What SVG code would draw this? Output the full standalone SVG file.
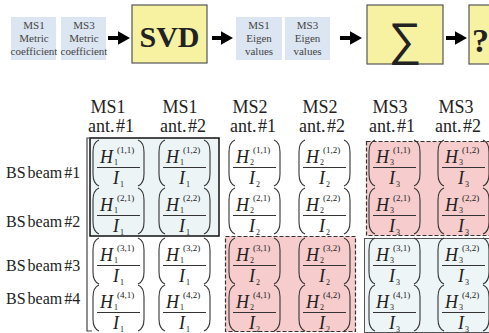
<svg xmlns="http://www.w3.org/2000/svg" xmlns:xlink="http://www.w3.org/1999/xlink" width="489" height="333" viewBox="0 0 489 333">
<style>
.bg{fill:#ffffff}
.tb{fill:#dce6f2}
.tt{font-family:"Liberation Serif","Times New Roman","DejaVu Serif",serif;font-size:11px;fill:#444;text-anchor:middle}
.yb{fill:#f7f2a2;stroke:#555;stroke-width:1.2}
.hd{font-family:"Liberation Serif","Times New Roman","DejaVu Serif",serif;font-size:18px;fill:#222;text-anchor:middle}
.rl{font-family:"Liberation Serif","Times New Roman","DejaVu Serif",serif;font-size:16px;fill:#222}
.h{font-family:"Liberation Serif","Times New Roman","DejaVu Serif",serif;font-style:italic;font-size:18px;fill:#222}
.sp{font-family:"Liberation Serif","Times New Roman","DejaVu Serif",serif;font-size:9px;fill:#222}
.sb{font-family:"Liberation Serif","Times New Roman","DejaVu Serif",serif;font-size:8px;fill:#222}
.pr{fill:none;stroke:#333;stroke-width:1.1}
.fl{stroke:#333;stroke-width:1.1}
.arr{stroke:#000;stroke-width:4}
</style>
<defs>
<g id="par">
<path class="pr" d="M7,0 C2,2 1,6 1,12 L1,34 C1,40 2,44 7,46"/>
<path class="pr" d="M46,0 C51,2 52,6 52,12 L52,34 C52,40 51,44 46,46"/>
<line class="fl" x1="5" y1="27.5" x2="48" y2="27.5"/>
</g>
<marker id="ah" markerWidth="3" markerHeight="3.4" refX="1" refY="1.7" orient="auto" markerUnits="strokeWidth">
<path d="M0,0 L3,1.7 L0,3.4 Z" fill="#000"/>
</marker>
</defs>
<rect class="bg" x="0" y="0" width="489" height="333"/>

<g id="connectors">
<line class="arr" x1="108" y1="38" x2="122" y2="38" marker-end="url(#ah)"/>
<line class="arr" x1="212" y1="38" x2="225" y2="38" marker-end="url(#ah)"/>
<line class="arr" x1="340" y1="38" x2="354" y2="38" marker-end="url(#ah)"/>
<line class="arr" x1="446" y1="38" x2="459" y2="38" marker-end="url(#ah)"/>
</g>

<g id="ms1-metric">
<rect class="tb" x="11" y="17" width="45" height="43"/>
<text class="tt" x="34" y="29">MS1</text>
<text class="tt" x="34" y="42">Metric</text>
<text class="tt" x="34" y="55">coefficient</text>
</g>
<g id="ms3-metric">
<rect class="tb" x="61" y="17" width="45" height="43"/>
<text class="tt" x="84" y="29">MS3</text>
<text class="tt" x="84" y="42">Metric</text>
<text class="tt" x="84" y="55">coefficient</text>
</g>
<g id="svd">
<rect class="yb" x="132" y="5" width="75" height="58"/>
<text x="169.5" y="47" font-family="Liberation Serif,Times New Roman,DejaVu Serif,serif" font-weight="bold" font-size="30" fill="#222" text-anchor="middle">SVD</text>
</g>
<g id="ms1-eigen">
<rect class="tb" x="236" y="17" width="46" height="43"/>
<text class="tt" x="259" y="29">MS1</text>
<text class="tt" x="259" y="42">Eigen</text>
<text class="tt" x="259" y="55">values</text>
</g>
<g id="ms3-eigen">
<rect class="tb" x="285" y="17" width="45" height="43"/>
<text class="tt" x="307.5" y="29">MS3</text>
<text class="tt" x="307.5" y="42">Eigen</text>
<text class="tt" x="307.5" y="55">values</text>
</g>
<g id="sum">
<rect class="yb" x="367" y="5" width="76" height="59"/>
<text x="405" y="55" font-family="DejaVu Sans,sans-serif" font-weight="200" font-size="46" fill="#222" text-anchor="middle">∑</text>
</g>
<g id="question">
<rect class="yb" x="469" y="5" width="25" height="59"/>
<text x="472" y="52" font-family="Liberation Serif,Times New Roman,DejaVu Serif,serif" font-weight="bold" font-size="34" fill="#222">?</text>
</g>

<g id="headers">
<text class="hd" x="108" y="113">MS1</text>
<text class="hd" x="111" y="132" word-spacing="-3">ant. #1</text>
<text class="hd" x="180" y="113">MS1</text>
<text class="hd" x="183" y="132" word-spacing="-3">ant. #2</text>
<text class="hd" x="250" y="113">MS2</text>
<text class="hd" x="253" y="132" word-spacing="-3">ant. #1</text>
<text class="hd" x="320" y="113">MS2</text>
<text class="hd" x="322" y="132" word-spacing="-3">ant. #2</text>
<text class="hd" x="390" y="113">MS3</text>
<text class="hd" x="392" y="132" word-spacing="-3">ant. #1</text>
<text class="hd" x="456" y="113">MS3</text>
<text class="hd" x="458" y="132" word-spacing="-3">ant. #2</text>
</g>
<g id="row-labels">
<text class="rl" x="6" y="178" word-spacing="-2">BS beam #1</text>
<text class="rl" x="6" y="227" word-spacing="-2">BS beam #2</text>
<text class="rl" x="6" y="271" word-spacing="-2">BS beam #3</text>
<text class="rl" x="6" y="304" word-spacing="-2">BS beam #4</text>
</g>

<g id="blocks">
<rect x="90" y="138" width="129" height="98" fill="#ecf4f6" stroke="#111" stroke-width="1.5"/>
<rect x="225.5" y="236.5" width="130" height="95" fill="#f6cccc" stroke="#333" stroke-width="1.2" stroke-dasharray="4,2"/>
<rect x="366.5" y="141.5" width="130" height="94" fill="#f6cccc" stroke="#333" stroke-width="1.2" stroke-dasharray="4,2"/>
<rect x="364.5" y="238.5" width="130" height="94" fill="#eef5f7" stroke="#555" stroke-width="1"/>
<path d="M92,138 L87,138 L87,331 L92,331" fill="none" stroke="#444" stroke-width="1.2"/>
</g>

<g id="cell-1-1" transform="translate(92,140)"><use href="#par"/><text class="h" x="8" y="23">H</text><text class="sp" x="25" y="13">(1,1)</text><text class="sb" x="22" y="25">1</text><text class="h" x="21" y="44">I</text><text class="sb" x="28" y="47">1</text></g>
<g id="cell-1-2" transform="translate(158,140)"><use href="#par"/><text class="h" x="8" y="23">H</text><text class="sp" x="25" y="13">(1,2)</text><text class="sb" x="22" y="25">1</text><text class="h" x="21" y="44">I</text><text class="sb" x="28" y="47">1</text></g>
<g id="cell-1-3" transform="translate(228,140)"><use href="#par"/><text class="h" x="8" y="23">H</text><text class="sp" x="25" y="13">(1,1)</text><text class="sb" x="22" y="25">2</text><text class="h" x="21" y="44">I</text><text class="sb" x="28" y="47">2</text></g>
<g id="cell-1-4" transform="translate(298,140)"><use href="#par"/><text class="h" x="8" y="23">H</text><text class="sp" x="25" y="13">(1,2)</text><text class="sb" x="22" y="25">2</text><text class="h" x="21" y="44">I</text><text class="sb" x="28" y="47">2</text></g>
<g id="cell-1-5" transform="translate(368,140)"><use href="#par"/><text class="h" x="8" y="23">H</text><text class="sp" x="25" y="13">(1,1)</text><text class="sb" x="22" y="25">3</text><text class="h" x="21" y="44">I</text><text class="sb" x="28" y="47">3</text></g>
<g id="cell-1-6" transform="translate(437,140)"><use href="#par"/><text class="h" x="8" y="23">H</text><text class="sp" x="25" y="13">(1,2)</text><text class="sb" x="22" y="25">3</text><text class="h" x="21" y="44">I</text><text class="sb" x="28" y="47">3</text></g>

<g id="cell-2-1" transform="translate(92,188)"><use href="#par"/><text class="h" x="8" y="23">H</text><text class="sp" x="25" y="13">(2,1)</text><text class="sb" x="22" y="25">1</text><text class="h" x="21" y="44">I</text><text class="sb" x="28" y="47">1</text></g>
<g id="cell-2-2" transform="translate(158,188)"><use href="#par"/><text class="h" x="8" y="23">H</text><text class="sp" x="25" y="13">(2,2)</text><text class="sb" x="22" y="25">1</text><text class="h" x="21" y="44">I</text><text class="sb" x="28" y="47">1</text></g>
<g id="cell-2-3" transform="translate(228,188)"><use href="#par"/><text class="h" x="8" y="23">H</text><text class="sp" x="25" y="13">(2,1)</text><text class="sb" x="22" y="25">2</text><text class="h" x="21" y="44">I</text><text class="sb" x="28" y="47">2</text></g>
<g id="cell-2-4" transform="translate(298,188)"><use href="#par"/><text class="h" x="8" y="23">H</text><text class="sp" x="25" y="13">(2,2)</text><text class="sb" x="22" y="25">2</text><text class="h" x="21" y="44">I</text><text class="sb" x="28" y="47">2</text></g>
<g id="cell-2-5" transform="translate(368,188)"><use href="#par"/><text class="h" x="8" y="23">H</text><text class="sp" x="25" y="13">(2,1)</text><text class="sb" x="22" y="25">3</text><text class="h" x="21" y="44">I</text><text class="sb" x="28" y="47">3</text></g>
<g id="cell-2-6" transform="translate(437,188)"><use href="#par"/><text class="h" x="8" y="23">H</text><text class="sp" x="25" y="13">(2,2)</text><text class="sb" x="22" y="25">3</text><text class="h" x="21" y="44">I</text><text class="sb" x="28" y="47">3</text></g>

<g id="cell-3-1" transform="translate(92,238)"><use href="#par"/><text class="h" x="8" y="23">H</text><text class="sp" x="25" y="13">(3,1)</text><text class="sb" x="22" y="25">1</text><text class="h" x="21" y="44">I</text><text class="sb" x="28" y="47">1</text></g>
<g id="cell-3-2" transform="translate(158,238)"><use href="#par"/><text class="h" x="8" y="23">H</text><text class="sp" x="25" y="13">(3,2)</text><text class="sb" x="22" y="25">1</text><text class="h" x="21" y="44">I</text><text class="sb" x="28" y="47">1</text></g>
<g id="cell-3-3" transform="translate(228,238)"><use href="#par"/><text class="h" x="8" y="23">H</text><text class="sp" x="25" y="13">(3,1)</text><text class="sb" x="22" y="25">2</text><text class="h" x="21" y="44">I</text><text class="sb" x="28" y="47">2</text></g>
<g id="cell-3-4" transform="translate(298,238)"><use href="#par"/><text class="h" x="8" y="23">H</text><text class="sp" x="25" y="13">(3,2)</text><text class="sb" x="22" y="25">2</text><text class="h" x="21" y="44">I</text><text class="sb" x="28" y="47">2</text></g>
<g id="cell-3-5" transform="translate(368,238)"><use href="#par"/><text class="h" x="8" y="23">H</text><text class="sp" x="25" y="13">(3,1)</text><text class="sb" x="22" y="25">3</text><text class="h" x="21" y="44">I</text><text class="sb" x="28" y="47">3</text></g>
<g id="cell-3-6" transform="translate(437,238)"><use href="#par"/><text class="h" x="8" y="23">H</text><text class="sp" x="25" y="13">(3,2)</text><text class="sb" x="22" y="25">3</text><text class="h" x="21" y="44">I</text><text class="sb" x="28" y="47">3</text></g>

<g id="cell-4-1" transform="translate(92,285)"><use href="#par"/><text class="h" x="8" y="23">H</text><text class="sp" x="25" y="13">(4,1)</text><text class="sb" x="22" y="25">1</text><text class="h" x="21" y="44">I</text><text class="sb" x="28" y="47">1</text></g>
<g id="cell-4-2" transform="translate(158,285)"><use href="#par"/><text class="h" x="8" y="23">H</text><text class="sp" x="25" y="13">(4,2)</text><text class="sb" x="22" y="25">1</text><text class="h" x="21" y="44">I</text><text class="sb" x="28" y="47">1</text></g>
<g id="cell-4-3" transform="translate(228,285)"><use href="#par"/><text class="h" x="8" y="23">H</text><text class="sp" x="25" y="13">(4,1)</text><text class="sb" x="22" y="25">2</text><text class="h" x="21" y="44">I</text><text class="sb" x="28" y="47">2</text></g>
<g id="cell-4-4" transform="translate(298,285)"><use href="#par"/><text class="h" x="8" y="23">H</text><text class="sp" x="25" y="13">(4,2)</text><text class="sb" x="22" y="25">2</text><text class="h" x="21" y="44">I</text><text class="sb" x="28" y="47">2</text></g>
<g id="cell-4-5" transform="translate(368,285)"><use href="#par"/><text class="h" x="8" y="23">H</text><text class="sp" x="25" y="13">(4,1)</text><text class="sb" x="22" y="25">3</text><text class="h" x="21" y="44">I</text><text class="sb" x="28" y="47">3</text></g>
<g id="cell-4-6" transform="translate(437,285)"><use href="#par"/><text class="h" x="8" y="23">H</text><text class="sp" x="25" y="13">(4,2)</text><text class="sb" x="22" y="25">3</text><text class="h" x="21" y="44">I</text><text class="sb" x="28" y="47">3</text></g>
</svg>
